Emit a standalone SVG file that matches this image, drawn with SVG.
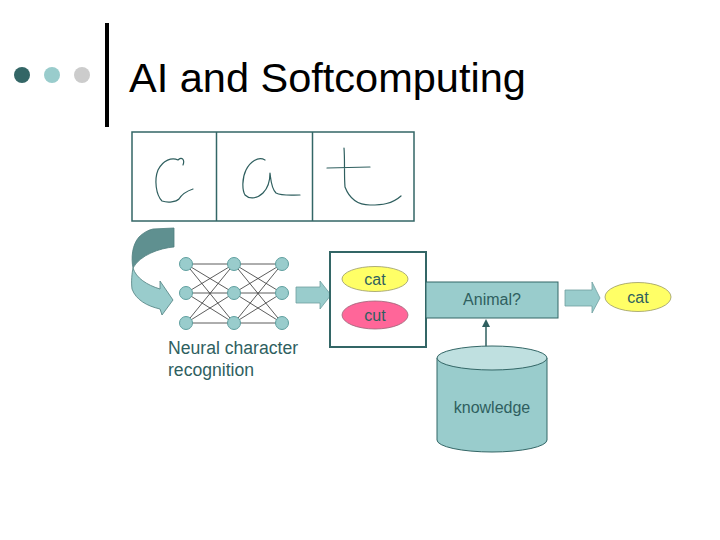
<svg xmlns="http://www.w3.org/2000/svg" width="720" height="540" viewBox="0 0 720 540">
<defs>
<style>
.t{font-family:"Liberation Sans",Arial,sans-serif;fill:#2f5f5f}
.node{fill:#99cccc;stroke:#5f9f9f;stroke-width:1}
.nn line{stroke:#333;stroke-width:0.8}
.blk{fill:#99cccc;stroke:#336666;stroke-width:1}
.hw{fill:none;stroke:#2f5f5f;stroke-width:1.2;stroke-linecap:round;stroke-linejoin:round}
</style>
<marker id="ah" markerWidth="8" markerHeight="8" refX="4" refY="4" orient="auto" markerUnits="userSpaceOnUse">
<path d="M0,0 L8,4 L0,8 z" fill="#2f5f5f"/>
</marker>
</defs>
<rect width="720" height="540" fill="#fff"/>
<g id="title">
<circle cx="22" cy="75" r="8" fill="#336666"/>
<circle cx="52" cy="75" r="8" fill="#99cccc"/>
<circle cx="82" cy="75" r="8" fill="#cccccc"/>
<line x1="107" y1="23" x2="107" y2="127" stroke="#000" stroke-width="4"/>
<text x="129" y="92" font-family="Liberation Sans,Arial,sans-serif" font-size="41.5" fill="#000">AI and Softcomputing</text>
</g>
<g id="image">
<rect x="132" y="132" width="282" height="89" fill="#fff" stroke="#336666" stroke-width="1.5"/>
<line x1="216.5" y1="132" x2="216.5" y2="221" stroke="#336666" stroke-width="1.5"/>
<line x1="312.5" y1="132" x2="312.5" y2="221" stroke="#336666" stroke-width="1.5"/>
<path class="hw" d="M183,165 C185,160 182,156 178,160 C172,157 163,160 158,170 C154,180 156,195 162,201 C168,203 176,202 179,199 C182,194 187,191 193,189"/>
<path class="hw" d="M265,160 C258,156 250,162 246,170 C242,178 242,190 245,195 C250,200 258,198 263,193 C268,188 270,180 270,173 C271,180 271,188 276,193 C282,196 290,195 300,195"/>
<path class="hw" d="M327,168 L370,167 M344,148 C345,160 344,175 345,187 C350,200 358,205 370,205 C382,205 392,204 401,196"/>
</g>
<g id="curved-arrow" stroke="#4f7f7f" stroke-width="0.8" stroke-linejoin="round">
<path d="M153,229 L174,228 L174,247 C160,248 140,255 133,268 C131,258 132,245 139,237 C143,233 148,230 153,229 Z" fill="#5f9090"/>
<path d="M133,268 C136,278 147,285 160,289 L160,281 L173,300 L162,315 L160,309 C147,306 136,300 132,289 C131,281 132,273 133,268 Z" fill="#99cccc"/>
</g>
<g id="network" class="nn">
<g>
<line x1="186" y1="264" x2="234" y2="264"/><line x1="186" y1="264" x2="234" y2="293"/><line x1="186" y1="264" x2="234" y2="323"/>
<line x1="186" y1="293" x2="234" y2="264"/><line x1="186" y1="293" x2="234" y2="293"/><line x1="186" y1="293" x2="234" y2="323"/>
<line x1="186" y1="323" x2="234" y2="264"/><line x1="186" y1="323" x2="234" y2="293"/><line x1="186" y1="323" x2="234" y2="323"/>
<line x1="234" y1="264" x2="282" y2="264"/><line x1="234" y1="264" x2="282" y2="293"/><line x1="234" y1="264" x2="282" y2="323"/>
<line x1="234" y1="293" x2="282" y2="264"/><line x1="234" y1="293" x2="282" y2="293"/><line x1="234" y1="293" x2="282" y2="323"/>
<line x1="234" y1="323" x2="282" y2="264"/><line x1="234" y1="323" x2="282" y2="293"/><line x1="234" y1="323" x2="282" y2="323"/>
</g>
<circle class="node" cx="186" cy="264" r="6.5"/><circle class="node" cx="186" cy="293" r="6.5"/><circle class="node" cx="186" cy="323" r="6.5"/>
<circle class="node" cx="234" cy="264" r="6.5"/><circle class="node" cx="234" cy="293" r="6.5"/><circle class="node" cx="234" cy="323" r="6.5"/>
<circle class="node" cx="282" cy="264" r="6.5"/><circle class="node" cx="282" cy="293" r="6.5"/><circle class="node" cx="282" cy="323" r="6.5"/>
<text class="t" x="168" y="354" font-size="17.6">Neural character</text>
<text class="t" x="168" y="376" font-size="17.6">recognition</text>
</g>
<g id="connectors">
<path d="M296,287 L320,287 L320,281 L331,295 L320,309 L320,303 L296,303 Z" fill="#99cccc" stroke="#6f9f9f" stroke-width="0.8"/>
<path d="M565,290 L592,290 L592,282 L600,298 L592,313 L592,306 L565,306 Z" fill="#99cccc" stroke="#6f9f9f" stroke-width="0.8"/>
<line x1="486" y1="353" x2="486" y2="323" stroke="#2f5f5f" stroke-width="1.5" marker-end="url(#ah)"/>
</g>
<g id="candidates">
<rect x="330" y="252" width="96" height="95" fill="#fff" stroke="#336666" stroke-width="2"/>
<ellipse cx="375" cy="279" rx="33" ry="12.5" fill="#ffff66" stroke="#999966" stroke-width="0.8"/>
<text class="t" x="375" y="285" font-size="16" text-anchor="middle">cat</text>
<ellipse cx="375" cy="315" rx="33" ry="14" fill="#ff6699" stroke="#996677" stroke-width="0.8"/>
<text class="t" x="375" y="321" font-size="16" text-anchor="middle">cut</text>
</g>
<g id="animal">
<rect x="426" y="282" width="132" height="36" class="blk"/>
<text class="t" x="492" y="305" font-size="16" text-anchor="middle">Animal?</text>
</g>
<g id="output">
<ellipse cx="638" cy="297" rx="33" ry="14.5" fill="#ffff66" stroke="#999966" stroke-width="0.8"/>
<text class="t" x="638" y="303" font-size="16" text-anchor="middle">cat</text>
</g>
<g id="knowledge">
<path d="M437,358 L437,440 A55,12 0 0 0 547,440 L547,358 Z" fill="#99cccc" stroke="#336666" stroke-width="1"/>
<ellipse cx="492" cy="358" rx="55" ry="12" fill="#bfe0e0" stroke="#336666" stroke-width="1"/>
<text class="t" x="492" y="413" font-size="16" text-anchor="middle">knowledge</text>
</g>
</svg>
